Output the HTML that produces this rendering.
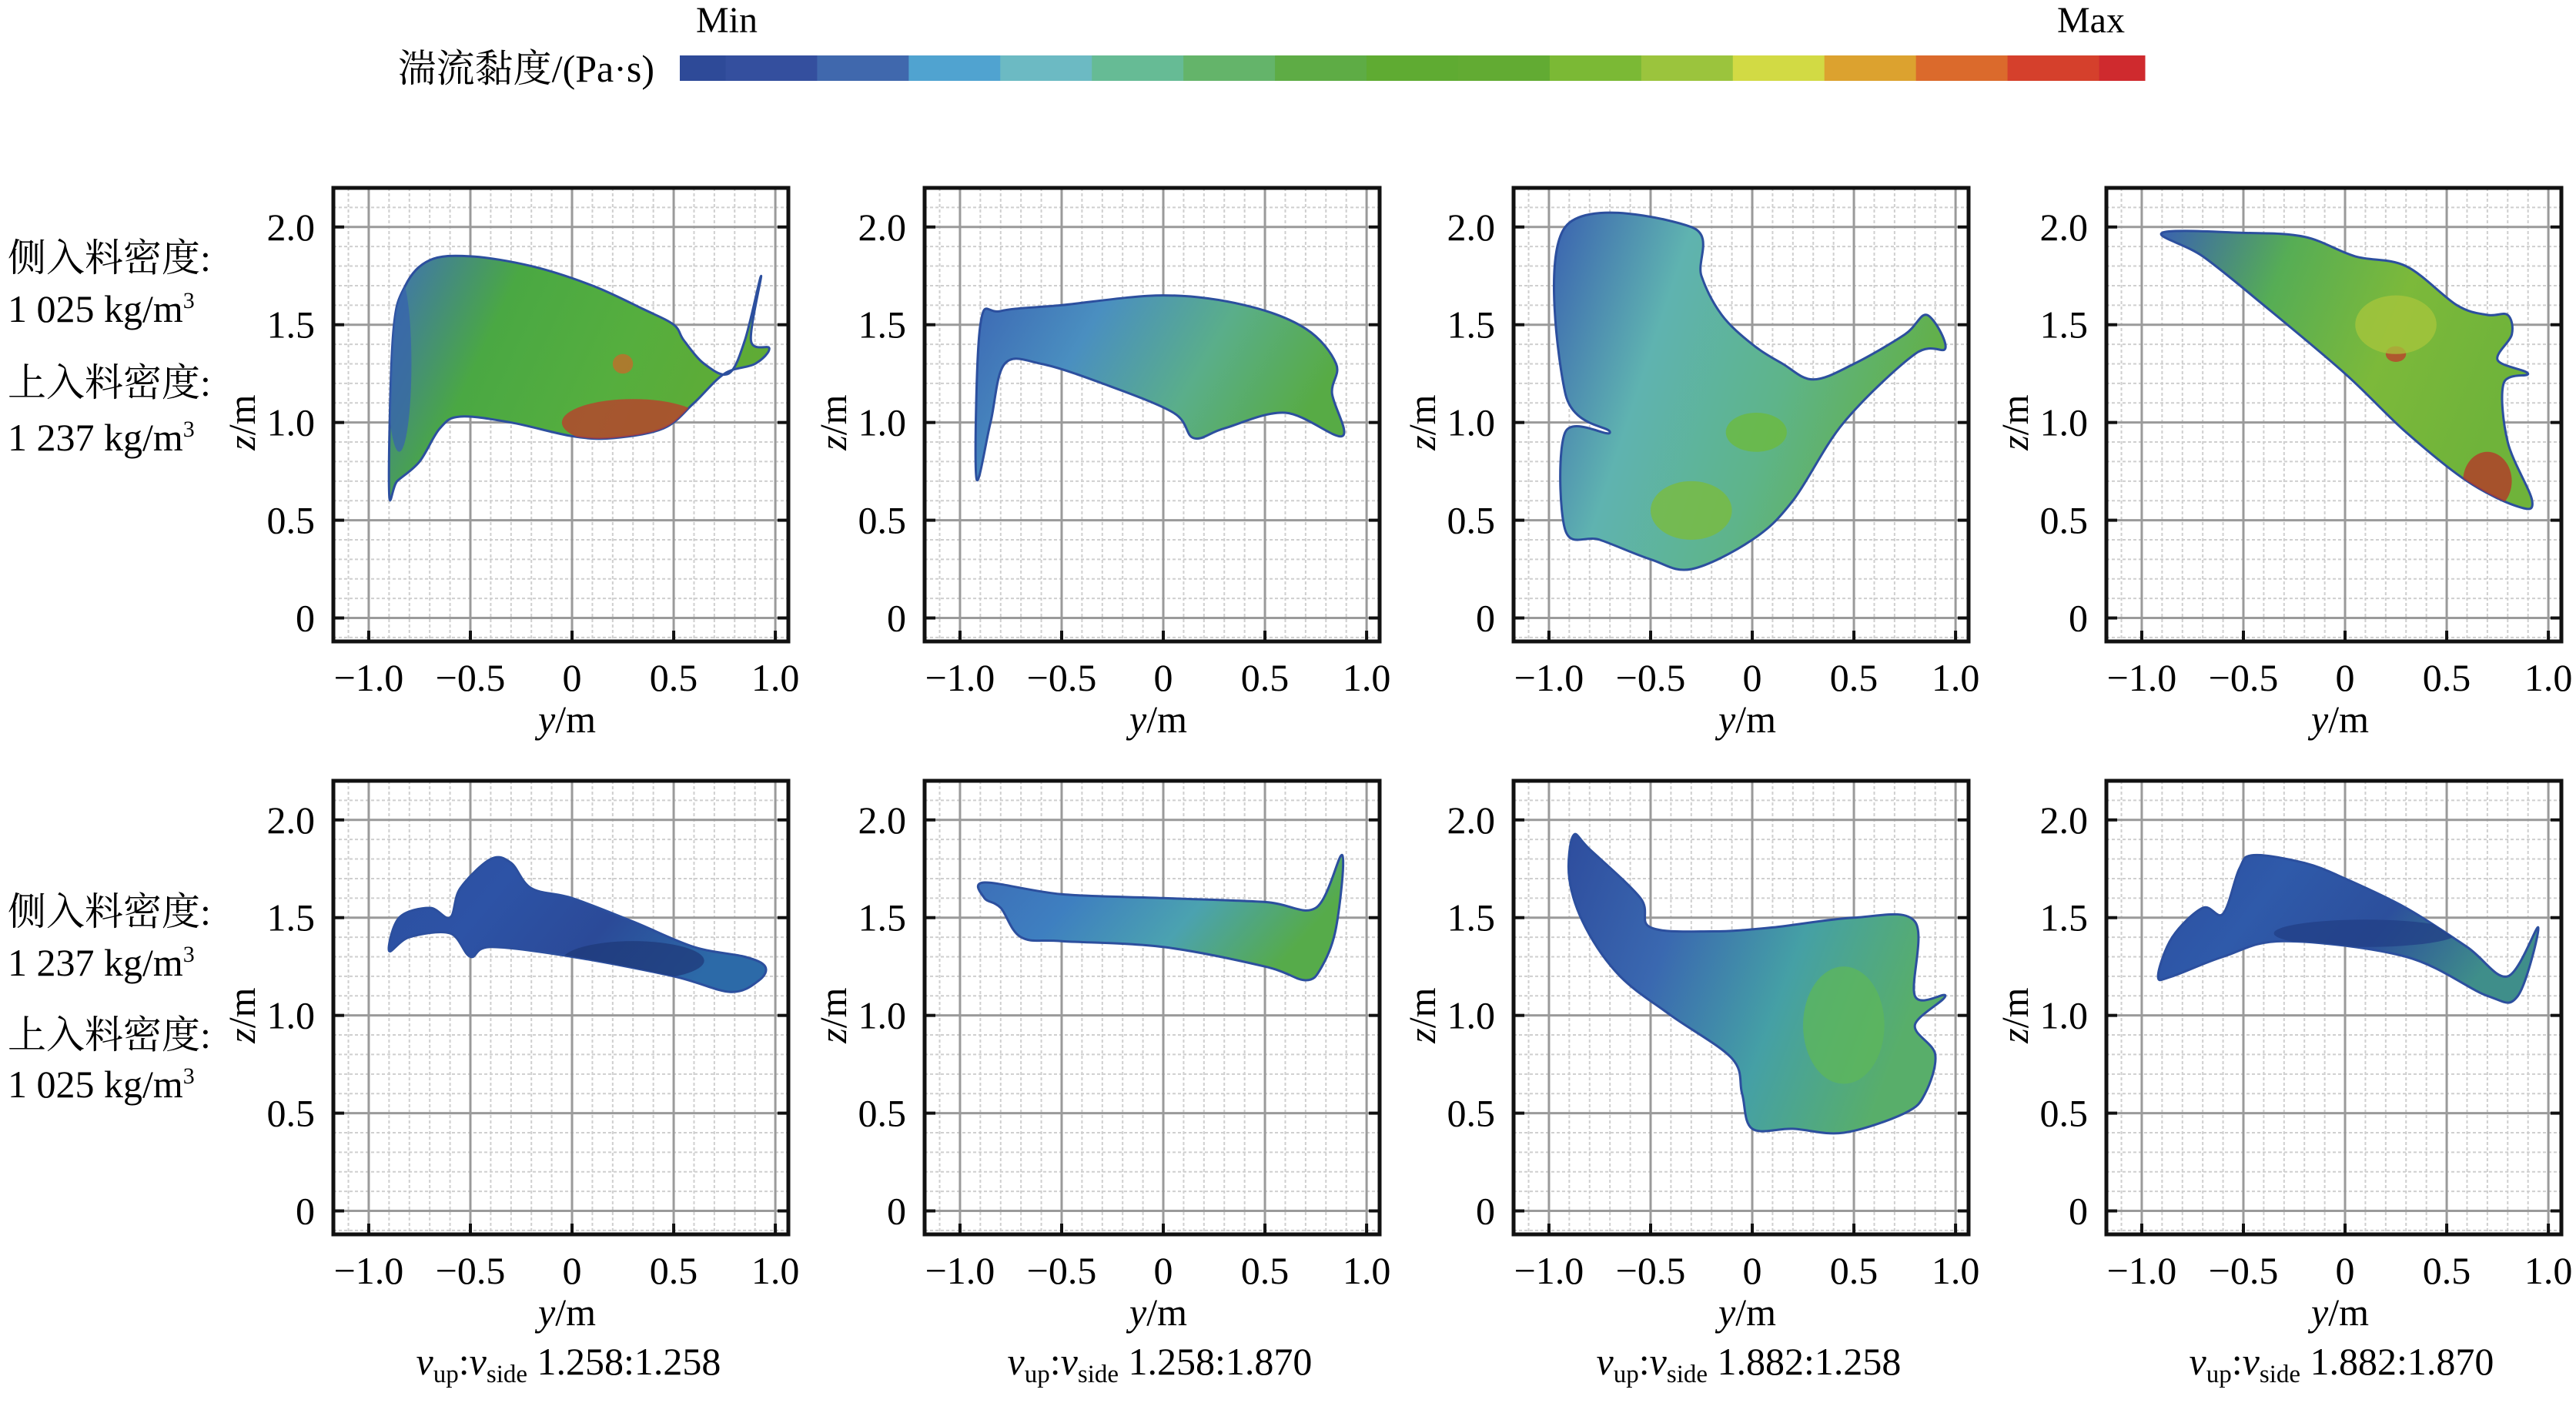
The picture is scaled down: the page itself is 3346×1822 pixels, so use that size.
<!DOCTYPE html>
<html><head><meta charset="utf-8"><style>
html,body{margin:0;padding:0;background:#fff;}
svg, svg text{font-family:"Liberation Serif","Noto Serif CJK SC","Times New Roman",serif;}
</style></head><body>
<svg id="fig" width="3346" height="1817" viewBox="0 0 3346 1817" xmlns="http://www.w3.org/2000/svg" font-family="Liberation Serif, Noto Serif CJK SC, serif">
<defs id="defs"></defs>
<g id="colorbar"></g>
<g id="panels"></g>
<g id="labels"></g>
</svg>
<script>
// ---- data ----
const cbColors = ["#2e4a98","#344f9e","#4068ad","#50a3d0","#6cbac3","#66bb95","#64b46a","#5eac45","#5fab32","#62ab33","#7bb935","#9bc43d","#d2da44","#dca22f","#db6a2c","#d5402c","#cf2a2e"];
const xTicks = [-1.0,-0.5,0,0.5,1.0];
const xTickLabels = ["\u22121.0","\u22120.5","0","0.5","1.0"];
const yTicks = [0,0.5,1.0,1.5,2.0];
const yTickLabels = ["0","0.5","1.0","1.5","2.0"];
const captions = ["1.258:1.258","1.258:1.870","1.882:1.258","1.882:1.870"];
const shapeR1C1 = [[-0.9,0.65],[-0.88,1.45],[-0.82,1.7],[-0.7,1.83],[-0.5,1.85],[-0.2,1.8],[0.1,1.7],[0.35,1.58],[0.5,1.5],[0.55,1.42],[0.65,1.3],[0.77,1.25],[0.85,1.42],[0.93,1.75],[0.88,1.42],[0.97,1.38],[0.9,1.3],[0.75,1.25],[0.6,1.1],[0.45,0.97],[0.2,0.92],[0,0.93],[-0.3,1.0],[-0.55,1.03],[-0.65,0.97],[-0.75,0.8],[-0.86,0.7]];
const shapeR1C2 = [[-0.92,0.72],[-0.9,1.5],[-0.8,1.57],[-0.5,1.6],[0,1.65],[0.4,1.6],[0.7,1.48],[0.85,1.3],[0.83,1.15],[0.88,0.93],[0.6,1.05],[0.3,0.97],[0.15,0.92],[0.05,1.05],[-0.3,1.2],[-0.6,1.3],[-0.78,1.3],[-0.85,1.0]];
const shapeR1C3 = [[-0.92,2.0],[-0.3,2.0],[-0.25,1.75],[-0.15,1.55],[0.0,1.4],[0.15,1.3],[0.3,1.22],[0.5,1.3],[0.75,1.45],[0.86,1.55],[0.95,1.38],[0.8,1.35],[0.45,1.0],[0.2,0.6],[0,0.4],[-0.3,0.25],[-0.5,0.3],[-0.75,0.4],[-0.92,0.45],[-0.92,0.95],[-0.7,0.95],[-0.92,1.15]];
const shapeR1C4 = [[-0.9,1.97],[-0.5,1.97],[-0.2,1.95],[0.05,1.85],[0.3,1.8],[0.55,1.6],[0.7,1.55],[0.8,1.55],[0.82,1.45],[0.75,1.32],[0.9,1.25],[0.78,1.2],[0.8,0.9],[0.92,0.6],[0.85,0.57],[0.6,0.7],[0.3,0.95],[0,1.25],[-0.4,1.6],[-0.7,1.85]];
const shapeR2C1 = [[-0.9,1.33],[-0.85,1.5],[-0.7,1.55],[-0.6,1.5],[-0.55,1.65],[-0.4,1.8],[-0.3,1.78],[-0.2,1.65],[0.0,1.6],[0.3,1.48],[0.6,1.35],[0.85,1.3],[0.95,1.25],[0.92,1.18],[0.78,1.12],[0.5,1.2],[0,1.3],[-0.4,1.35],[-0.5,1.3],[-0.6,1.42],[-0.8,1.4]];
const shapeR2C2 = [[-0.88,1.68],[-0.5,1.62],[0,1.6],[0.5,1.58],[0.75,1.55],[0.88,1.82],[0.85,1.45],[0.78,1.25],[0.7,1.18],[0.5,1.25],[0,1.35],[-0.5,1.38],[-0.7,1.4],[-0.8,1.55],[-0.88,1.6]];
const shapeR2C3 = [[-0.88,1.92],[-0.8,1.85],[-0.55,1.6],[-0.5,1.45],[-0.2,1.43],[0.1,1.45],[0.5,1.5],[0.8,1.48],[0.8,1.1],[0.95,1.1],[0.8,0.95],[0.9,0.8],[0.85,0.6],[0.75,0.5],[0.45,0.4],[0.2,0.42],[0,0.42],[-0.05,0.6],[-0.1,0.78],[-0.4,1.0],[-0.65,1.2],[-0.82,1.45],[-0.9,1.7]];
const shapeR2C4 = [[-0.92,1.2],[-0.85,1.4],[-0.7,1.55],[-0.6,1.52],[-0.52,1.75],[-0.45,1.82],[-0.2,1.78],[0,1.7],[0.3,1.55],[0.6,1.35],[0.8,1.2],[0.95,1.45],[0.85,1.1],[0.7,1.1],[0.3,1.3],[-0.3,1.38],[-0.6,1.3],[-0.85,1.2]];
const shapes = [shapeR1C1,shapeR1C2,shapeR1C3,shapeR1C4,shapeR2C1,shapeR2C2,shapeR2C3,shapeR2C4];
const fills = [["#3f6fb8","#4aa843","#55ae3e","#5fab35"],["#3c68b4","#4a8fc0","#5aae8a","#57ab45"],["#3a62b0","#5fb3b0","#5eb48a","#62b04a"],["#3a62b0","#56ad55","#7cb93a","#6fb33a"],["#2c4fa0","#2d53a6","#2b4a98","#2c6aa8"],["#3c6cb6","#3e7fc0","#4ba2b0","#56ab4a"],["#2e4d9e","#3a68b0","#45a0a5","#58ae6a"],["#2c4ea0","#2f5aaa","#2c4f9c","#3f8e8a"]];
const hot = [[[0.3,1.0,0.35,0.12,"#c0392b"],[0.25,1.3,0.05,0.05,"#c86a2a"],[-0.85,1.3,0.06,0.45,"#3763ae"]],[],[[0.02,0.95,0.15,0.1,"#6dbb3a"],[-0.3,0.55,0.2,0.15,"#7cbc3a"]],[[0.25,1.35,0.05,0.04,"#c0392b"],[0.7,0.7,0.12,0.15,"#b83228"],[0.25,1.5,0.2,0.15,"#a8c53c"]],[[0.3,1.28,0.35,0.1,"#1f3a7a"]],[],[[0.45,0.95,0.2,0.3,"#5db75a"]],[[0.1,1.42,0.45,0.07,"#223f86"]]];
// ---- layout ----
const NS="http://www.w3.org/2000/svg";
const FONT="Liberation Serif, Noto Serif CJK SC, serif";
const colLeft=[433,1201,1966,2736];
const rowTop=[244,1014];
const PW=591, PH=589;
const X0=-1.174, X1=1.064, Y0=-0.12, Y1=2.2;
function el(tag,attrs,parent){const e=document.createElementNS(NS,tag);for(const k in attrs)e.setAttribute(k,attrs[k]);if(tag==='text')e.setAttribute('font-family',FONT);parent.appendChild(e);return e;}
function smooth(pts){
  const n=pts.length;let d='M'+pts[0][0].toFixed(1)+','+pts[0][1].toFixed(1);
  for(let i=0;i<n;i++){
    const p0=pts[(i-1+n)%n],p1=pts[i],p2=pts[(i+1)%n],p3=pts[(i+2)%n];
    const c1=[p1[0]+(p2[0]-p0[0])/6,p1[1]+(p2[1]-p0[1])/6];
    const c2=[p2[0]-(p3[0]-p1[0])/6,p2[1]-(p3[1]-p1[1])/6];
    d+='C'+c1.map(v=>v.toFixed(1)).join(',')+' '+c2.map(v=>v.toFixed(1)).join(',')+' '+p2.map(v=>v.toFixed(1)).join(',');
  }
  return d+'Z';
}
const defs=document.getElementById('defs');
// colorbar
const cb=document.getElementById('colorbar');
const cbL=883,cbR=2786,cbT=72,cbB=105;
const segW=(cbR-cbL)/(cbColors.length-1);
cbColors.forEach((c,i)=>{
  let x=cbL+(i-0.5)*segW, w=segW;
  if(i===0){x=cbL;w=segW/2;} if(i===cbColors.length-1){w=segW/2;}
  const r=el('rect',{x:x,y:cbT,width:w+0.5,height:cbB-cbT,fill:c},cb);
  
  
});
let t=el('text',{x:944,y:42,'font-size':48,'text-anchor':'middle'},cb);t.textContent='Min';

t=el('text',{x:2716,y:42,'font-size':48,'text-anchor':'middle'},cb);t.textContent='Max';

t=el('text',{x:850,y:106,'font-size':50,'text-anchor':'end'},cb);t.textContent='湍流黏度/(Pa·s)';

// panels
const pg=document.getElementById('panels');
for(let p=0;p<8;p++){
  const r=Math.floor(p/4), c=p%4;
  const L=colLeft[c], T=rowTop[r];
  const sx=v=>L+(v-X0)/(X1-X0)*PW;
  const sy=v=>T+(Y1-v)/(Y1-Y0)*PH;
  const g=el('g',{},pg);
  
  
  for(let k=-11;k<=10;k++){const v=k/10;if(k%5===0)continue;const x=sx(v);
    el('line',{x1:x,y1:T,x2:x,y2:T+PH,stroke:'#cfcfcf','stroke-width':2,'stroke-dasharray':'4 3'},g);}
  for(let k=-1;k<=22;k++){const v=k/10;if(k%5===0)continue;const y=sy(v);
    el('line',{x1:L,y1:y,x2:L+PW,y2:y,stroke:'#cfcfcf','stroke-width':2,'stroke-dasharray':'4 3'},g);}
  xTicks.forEach(v=>{const x=sx(v);el('line',{x1:x,y1:T,x2:x,y2:T+PH,stroke:'#9a9a9a','stroke-width':3},g);});
  yTicks.forEach(v=>{const y=sy(v);el('line',{x1:L,y1:y,x2:L+PW,y2:y,stroke:'#9a9a9a','stroke-width':3},g);});
  const gid='grad'+p;
  const lg=el('linearGradient',{id:gid,x1:'0',y1:'0',x2:'1',y2:'0.3'},defs);
  fills[p].forEach((f,i)=>el('stop',{offset:(i/(fills[p].length-1)),'stop-color':f},lg));
  const cid='clip'+p;
  const d=smooth(shapes[p].map(q=>[sx(q[0]),sy(q[1])]));
  const cp=el('clipPath',{id:cid},defs); el('path',{d:d},cp);
  const s=el('path',{d:d,fill:'url(#'+gid+')',stroke:'#2c4f9e','stroke-width':3},g);
  
  
  const hg=el('g',{'clip-path':'url(#'+cid+')'},g);
  hot[p].forEach(h=>{
    const e=el('ellipse',{cx:sx(h[0]),cy:sy(h[1]),rx:h[2]/(X1-X0)*PW,ry:h[3]/(Y1-Y0)*PH,fill:h[4],opacity:0.75},hg);
    
    
  });
  const fr=el('rect',{x:L,y:T,width:PW,height:PH,fill:'none',stroke:'#111','stroke-width':5},g);
  
  xTicks.forEach((v,i)=>{const x=sx(v);
    el('line',{x1:x,y1:T+PH,x2:x,y2:T+PH-14,stroke:'#111','stroke-width':4},g);
    const tl=el('text',{x:x,y:T+PH+64,'font-size':50,'text-anchor':'middle'},g);tl.textContent=xTickLabels[i];
    });
  yTicks.forEach((v,i)=>{const y=sy(v);
    el('line',{x1:L,y1:y,x2:L+14,y2:y,stroke:'#111','stroke-width':4},g);
    el('line',{x1:L+PW,y1:y,x2:L+PW-14,y2:y,stroke:'#111','stroke-width':4},g);
    const tl=el('text',{x:L-24,y:y+17,'font-size':50,'text-anchor':'end'},g);tl.textContent=yTickLabels[i];
    });
  const xt=el('text',{x:L+PW/2+8,y:T+PH+118,'font-size':50,'text-anchor':'middle'},g);
  xt.innerHTML='<tspan font-style="italic">y</tspan>/m';
  
  const yt=el('text',{x:0,y:0,'font-size':50,'text-anchor':'middle',transform:'translate('+(L-102)+','+(sy(1.0))+') rotate(-90)'},g);
  yt.innerHTML='<tspan font-style="italic">z</tspan>/m';
  
  if(r===1){
    const ct=el('text',{x:L+PW/2+10,y:T+PH+182,'font-size':50,'text-anchor':'middle'},g);
    ct.innerHTML='<tspan font-style="italic">v</tspan><tspan font-size="33" dy="10">up</tspan><tspan dy="-10">:</tspan><tspan font-style="italic">v</tspan><tspan font-size="33" dy="10">side</tspan><tspan dy="-10"> '+captions[c]+'</tspan>';
    
  }
}
const lab=document.getElementById('labels');
const sideText=[["侧入料密度:",352],["1 025 kg/m<tspan font-size='30' dy='-18'>3</tspan>",418],["上入料密度:",514],["1 237 kg/m<tspan font-size='30' dy='-18'>3</tspan>",585],
["侧入料密度:",1201],["1 237 kg/m<tspan font-size='30' dy='-18'>3</tspan>",1267],["上入料密度:",1361],["1 025 kg/m<tspan font-size='30' dy='-18'>3</tspan>",1425]];
sideText.forEach(s=>{const tx=el('text',{x:10,y:s[1],'font-size':50},lab);tx.innerHTML=s[0];
  });
</script>
</body></html>
